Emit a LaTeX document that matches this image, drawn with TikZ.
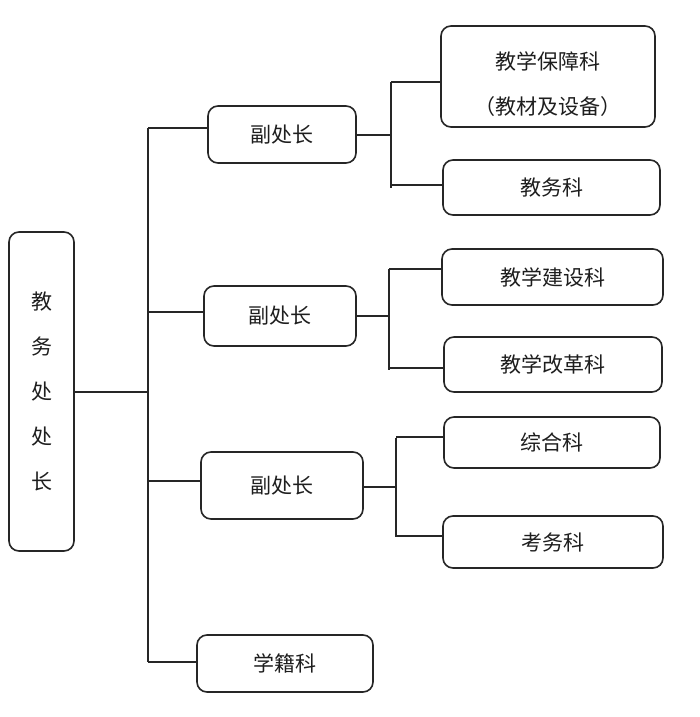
\documentclass[tikz,border=0pt]{standalone}
\usepackage{fontspec}
\usepackage{tikz}
\usetikzlibrary{positioning,calc}
\newfontfamily\cjk{Noto Sans CJK SC}
\definecolor{OrgLine}{HTML}{262626}
\definecolor{OrgText}{HTML}{1E1E1E}
\tikzset{
  orgbox/.style={draw=OrgLine,line width=1.6pt,rounded corners=10pt,align=center,inner sep=2pt,text=OrgText,font=\cjk\fontsize{21}{45}\selectfont},
  orglink/.style={line width=1.7pt,draw=OrgLine}
}

\begin{document}
\begin{tikzpicture}[x=1pt,y=-1pt]
\fill[white] (0,0) rectangle (700,717);
\useasboundingbox (0,0) rectangle (700,717);
\node[orgbox,minimum width=65pt,minimum height=319pt] (head) at (41.5,391.5) {教\\务\\处\\处\\长};
\node[orgbox,minimum width=148pt,minimum height=57pt] (vice1) at (282,134.5) {副处长};
\node[orgbox,minimum width=152pt,minimum height=60pt] (vice2) at (280,316) {副处长};
\node[orgbox,minimum width=162pt,minimum height=67pt] (vice3) at (282,485.5) {副处长};
\node[orgbox,minimum width=176pt,minimum height=57pt] (roll) at (285,663.5) {学籍科};
\node[orgbox,minimum width=214pt,minimum height=101pt] (supp) at (548,76.5)
  {\raisebox{-12pt}[45pt][45pt]{\begin{tabular}{@{}c@{}}教学保障科\\（教材及设备）\end{tabular}}};
\node[orgbox,minimum width=217pt,minimum height=55pt] (affair) at (551.5,187.5) {教务科};
\node[orgbox,minimum width=221pt,minimum height=56pt] (build) at (552.5,277) {教学建设科};
\node[orgbox,minimum width=218pt,minimum height=55pt] (reform) at (553,364.5) {教学改革科};
\node[orgbox,minimum width=216pt,minimum height=51pt] (general) at (552,442.5) {综合科};
\node[orgbox,minimum width=220pt,minimum height=52pt] (exam) at (553,542) {考务科};

\coordinate (trunktop) at (148,128);
\coordinate (trunkbot) at (148,662);
\coordinate (forkAt) at (391,82);
\coordinate (forkAb) at (391,188);
\coordinate (forkBt) at (389,269);
\coordinate (forkBb) at (389,370);
\coordinate (forkCt) at (396,438);
\coordinate (forkCb) at (396,537);

\draw[orglink] ([yshift=-0.5pt]head.east) -- ([yshift=-0.5pt]head.east -| trunktop);
\draw[orglink] (trunktop) -- (trunkbot);
\draw[orglink] (trunktop) -- (trunktop -| vice1.west);
\draw[orglink] ([yshift=4pt]vice2.west) -- ([yshift=4pt]vice2.west -| trunktop);
\draw[orglink] ([yshift=4.5pt]vice3.west) -- ([yshift=4.5pt]vice3.west -| trunktop);
\draw[orglink] (trunkbot) -- (trunkbot -| roll.west);

\draw[orglink] ([yshift=-0.5pt]vice1.east) -- ([yshift=-0.5pt]vice1.east -| forkAt);
\draw[orglink] (forkAt) -- (forkAb);
\draw[orglink] (forkAt) -- (forkAt -| supp.west);
\draw[orglink] ([yshift=3pt]forkAb) -- ([yshift=3pt]forkAb -| affair.west);

\draw[orglink] (vice2.east) -- (vice2.east -| forkBt);
\draw[orglink] (forkBt) -- (forkBb);
\draw[orglink] (forkBt) -- (forkBt -| build.west);
\draw[orglink] ([yshift=2pt]forkBb) -- ([yshift=2pt]forkBb -| reform.west);

\draw[orglink] ([yshift=-1.5pt]vice3.east) -- ([yshift=-1.5pt]vice3.east -| forkCt);
\draw[orglink] (forkCt) -- (forkCb);
\draw[orglink] ([yshift=1pt]forkCt) -- ([yshift=1pt]forkCt -| general.west);
\draw[orglink] ([yshift=1pt]forkCb) -- ([yshift=1pt]forkCb -| exam.west);
\end{tikzpicture}
\end{document}
